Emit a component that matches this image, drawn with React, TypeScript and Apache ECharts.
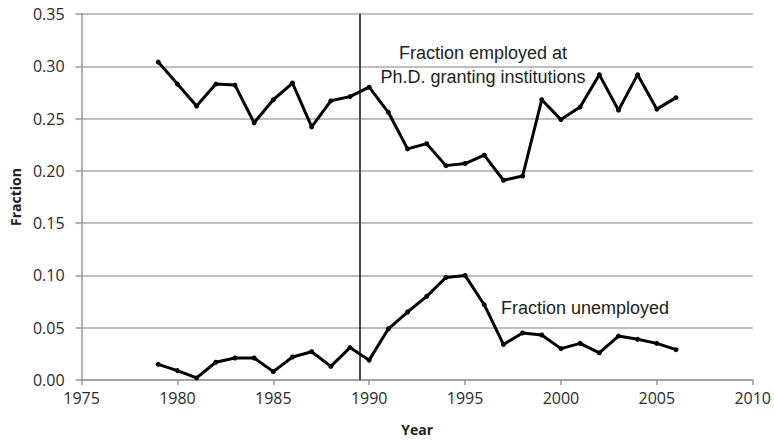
import React, { useEffect, useRef } from "react";
import * as echarts from "echarts";

const years = [1979, 1980, 1981, 1982, 1983, 1984, 1985, 1986, 1987, 1988, 1989, 1990, 1991, 1992, 1993, 1994, 1995, 1996, 1997, 1998, 1999, 2000, 2001, 2002, 2003, 2004, 2005, 2006];
const employed = [0.304, 0.283, 0.262, 0.283, 0.282, 0.246, 0.268, 0.284, 0.242, 0.267, 0.271, 0.280, 0.256, 0.221, 0.226, 0.205, 0.207, 0.215, 0.191, 0.195, 0.268, 0.249, 0.261, 0.292, 0.258, 0.292, 0.259, 0.270];
const unemployed = [0.015, 0.009, 0.002, 0.017, 0.021, 0.021, 0.008, 0.022, 0.027, 0.013, 0.031, 0.019, 0.049, 0.065, 0.080, 0.098, 0.100, 0.072, 0.034, 0.045, 0.043, 0.030, 0.035, 0.026, 0.042, 0.039, 0.035, 0.029];
const dividerYear = 1989.5;
const employedLabel = ["Fraction employed at", "Ph.D. granting institutions"];
const unemployedLabel = "Fraction unemployed";

export default function App() {
  const ref = useRef<HTMLDivElement>(null);
  useEffect(() => {
    if (!ref.current) return;
    const chart = echarts.init(ref.current, null, { renderer: "svg" });
    const labelFont = "'Open Sans', sans-serif";
    const annoFont = "'Liberation Sans', Arial, sans-serif";
    const lineStyle = { color: "#000", width: 3 };
    chart.setOption({
      animation: false,
      backgroundColor: "#fff",
      grid: { left: 78, right: 19, top: 14, bottom: 60 },
      xAxis: {
        type: "value",
        min: 1975,
        max: 2010,
        interval: 5,
        name: "Year",
        nameLocation: "middle",
        nameGap: 42,
        nameTextStyle: { fontFamily: labelFont, fontWeight: "bold", fontSize: 14, color: "#222" },
        axisLine: { show: true, lineStyle: { color: "#999", width: 1.5 } },
        axisTick: { show: true, length: 5, lineStyle: { color: "#999", width: 1.5 } },
        axisLabel: {
          margin: 10,
          fontFamily: labelFont,
          fontSize: 16,
          color: "#2a2a2a",
          formatter: (v: number) => String(v),
        },
        splitLine: { show: false },
      },
      yAxis: {
        type: "value",
        min: 0,
        max: 0.35,
        interval: 0.05,
        name: "Fraction",
        nameLocation: "middle",
        nameGap: 58,
        nameTextStyle: { fontFamily: labelFont, fontWeight: "bold", fontSize: 14, color: "#222" },
        axisLine: { show: true, lineStyle: { color: "#999", width: 1.5 } },
        axisTick: { show: true, length: 6, lineStyle: { color: "#999", width: 1.5 } },
        axisLabel: {
          margin: 17,
          fontFamily: labelFont,
          fontSize: 16,
          color: "#2a2a2a",
          formatter: (v: number) => v.toFixed(2),
        },
        splitLine: { show: true, lineStyle: { color: "#aaa", width: 1.5 } },
      },
      series: [
        {
          type: "line",
          data: years.map((y, i) => [y, employed[i]]),
          symbol: "circle",
          symbolSize: 5,
          itemStyle: { color: "#000" },
          lineStyle,
          markLine: {
            silent: true,
            symbol: "none",
            label: { show: false },
            lineStyle: { color: "#111", width: 1.5, type: "solid" },
            data: [{ xAxis: dividerYear }],
          },
        },
        {
          type: "line",
          data: years.map((y, i) => [y, unemployed[i]]),
          symbol: "circle",
          symbolSize: 5,
          itemStyle: { color: "#000" },
          lineStyle,
        },
      ],
      graphic: [
        {
          type: "text",
          x: 483,
          y: 53,
          style: { text: employedLabel[0], font: `18px ${annoFont}`, fill: "#222", align: "center", verticalAlign: "middle" },
        },
        {
          type: "text",
          x: 483,
          y: 77,
          style: { text: employedLabel[1], font: `18px ${annoFont}`, fill: "#222", align: "center", verticalAlign: "middle" },
        },
        {
          type: "text",
          x: 501,
          y: 308,
          style: { text: unemployedLabel, font: `18px ${annoFont}`, fill: "#222", align: "left", verticalAlign: "middle" },
        },
      ],
    });
    return () => chart.dispose();
  }, []);
  return <div ref={ref} style={{ position: "fixed", left: 0, top: 0, width: 774, height: 441 }} />;
}
